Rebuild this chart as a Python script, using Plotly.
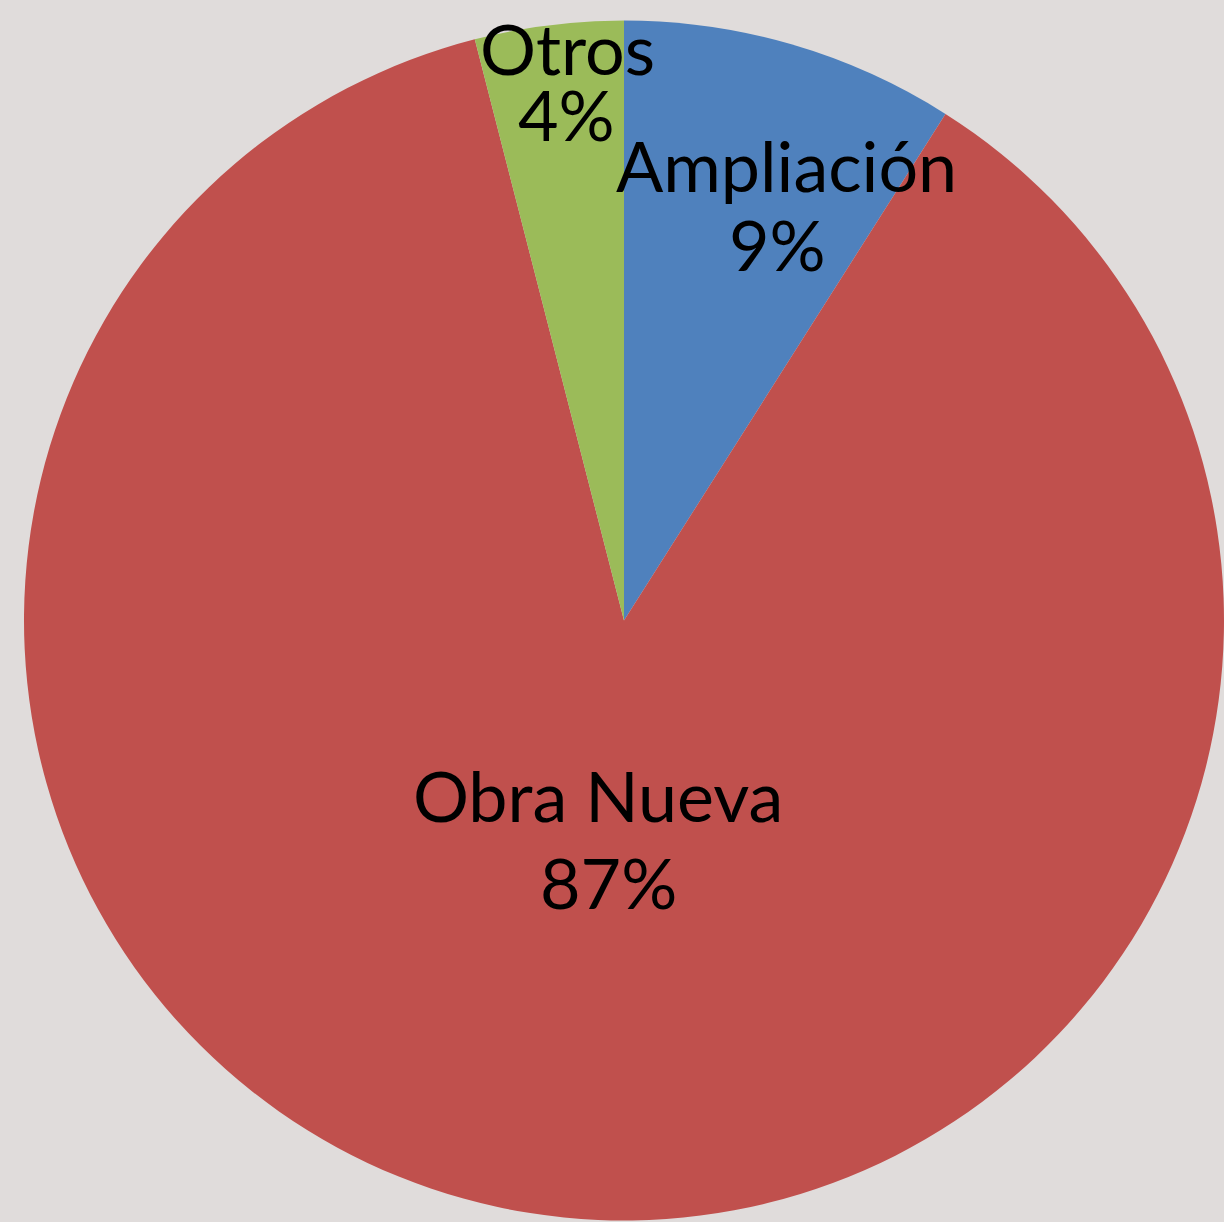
import plotly.graph_objects as go

# Datos
categorias = ["Ampliación", "Obra Nueva", "Otros"]
valores = [9, 87, 4]
colores = ["#4F81BD", "#C0504D", "#9BBB59"]

# posicion de las etiquetas en pixeles (centro x, linea base y), estilo Excel
etiqueta_nombre_xy = [(786, 190), (598, 820), (567, 73)]
etiqueta_pct_xy = [(777, 269), (608, 907), (566, 139)]

W, H = 1224, 1222
total = sum(valores)
porcentajes = [f"{round(v / total * 100)}%" for v in valores]

fig = go.Figure(go.Pie(
    labels=categorias,
    values=valores,
    marker=dict(colors=colores, line=dict(width=0)),
    sort=False,
    direction="clockwise",
    rotation=0,
    textinfo="none",
    hoverinfo="label+percent",
    showlegend=False,
    domain=dict(x=[24 / W, 1], y=[0, 1 - 19 / H]),
))


def etiqueta(texto, px, base):
    # convertir pixeles a coordenadas paper (centro de la linea ~25px sobre la base)
    fig.add_annotation(
        text=texto, x=px / W, y=1 - (base - 25) / H, xref="paper", yref="paper",
        showarrow=False, xanchor="center", yanchor="middle",
        font=dict(family="Lato", size=70, color="black"),
    )


for c, p, (nx, ny), (px, py) in zip(categorias, porcentajes, etiqueta_nombre_xy, etiqueta_pct_xy):
    etiqueta(c, nx, ny)
    etiqueta(p, px, py)

fig.update_layout(
    width=W, height=H,
    margin=dict(l=0, r=0, t=0, b=0),
    paper_bgcolor="#E0DCDB",
    plot_bgcolor="#E0DCDB",
)

# sin margen del body para que el grafico ocupe toda la ventana
fig.write_html(
    "out.html",
    config={"displayModeBar": False},
    post_script="document.body.style.margin='0';document.body.style.overflow='hidden';",
)
